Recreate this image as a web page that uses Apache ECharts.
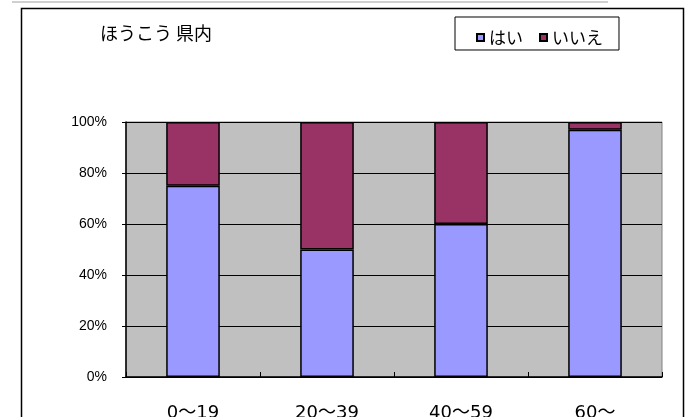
<!DOCTYPE html>
<html>
<head>
<meta charset="utf-8">
<script src="https://cdn.jsdelivr.net/npm/echarts@6/dist/echarts.min.js"></script>
<style>
html,body{margin:0;padding:0;background:#fff;}
#c{width:697px;height:417px;}
</style>
</head>
<body>
<div id="c"></div>
<script>
const title = 'ほうこう 県内';
const categories = ['0～19', '20～39', '40～59', '60～'];
const seriesNames = ['はい', 'いいえ'];
const yesValues = [75, 50, 60, 97];
const noValues = [25, 50, 40, 3];
const yTicks = [0, 20, 40, 60, 80, 100];

const FONT = '"Noto Sans CJK JP", "Noto Sans", sans-serif';
const chart = echarts.init(document.getElementById('c'), null, {renderer: 'canvas'});
chart.setOption({
  animation: false,
  backgroundColor: '#fff',
  textStyle: {fontFamily: FONT, color: '#000'},
  graphic: [
    {type: 'rect', shape: {x: 12, y: 1, width: 596, height: 2}, style: {fill: '#d0d0d0'}, silent: true},
    {type: 'rect', shape: {x: 21.5, y: 8.5, width: 662, height: 420}, style: {fill: 'none', stroke: '#000', lineWidth: 1.5}, silent: true}
  ],
  title: {
    text: title, left: 95, top: 19,
    textStyle: {fontFamily: FONT, fontSize: 18, fontWeight: 'normal', color: '#000'}
  },
  legend: {
    data: seriesNames,
    left: 455, top: 17,
    borderColor: '#000', borderWidth: 1,
    padding: [12, 16, 4, 21],
    icon: 'rect', itemWidth: 7, itemHeight: 7, itemGap: 16,
    textStyle: {fontFamily: FONT, fontSize: 17, color: '#000'}
  },
  grid: {
    left: 126, top: 122, right: 35, bottom: 40,
    outerBoundsMode: 'none', containLabel: false,
    show: true, backgroundColor: '#C0C0C0', borderColor: '#808080', borderWidth: 1
  },
  xAxis: {
    type: 'category', data: categories,
    axisLine: {lineStyle: {color: '#000', width: 1.5}},
    axisTick: {show: true, inside: true, length: 5, lineStyle: {color: '#000'}},
    axisLabel: {fontFamily: '"DejaVu Sans", "Noto Sans CJK JP", sans-serif', fontSize: 18, color: '#000', margin: 27}
  },
  yAxis: {
    type: 'value', min: 0, max: 100, interval: 20,
    axisLine: {show: true, lineStyle: {color: '#000', width: 1.5}},
    axisTick: {show: true, length: 4, lineStyle: {color: '#000'}},
    splitLine: {show: true, lineStyle: {color: '#000', width: 1}},
    axisLabel: {fontFamily: '"Liberation Sans", Arial, sans-serif', fontSize: 14, color: '#000', margin: 19, formatter: v => yTicks.includes(v) ? v + '%' : ''}
  },
  series: [
    {name: seriesNames[0], type: 'bar', stack: 's', data: yesValues, barWidth: '40%',
     itemStyle: {color: '#9999FF', borderColor: '#000', borderWidth: 1.5}},
    {name: seriesNames[1], type: 'bar', stack: 's', data: noValues, barWidth: '40%',
     itemStyle: {color: '#993366', borderColor: '#000', borderWidth: 1.5}}
  ]
});
</script>
</body>
</html>
